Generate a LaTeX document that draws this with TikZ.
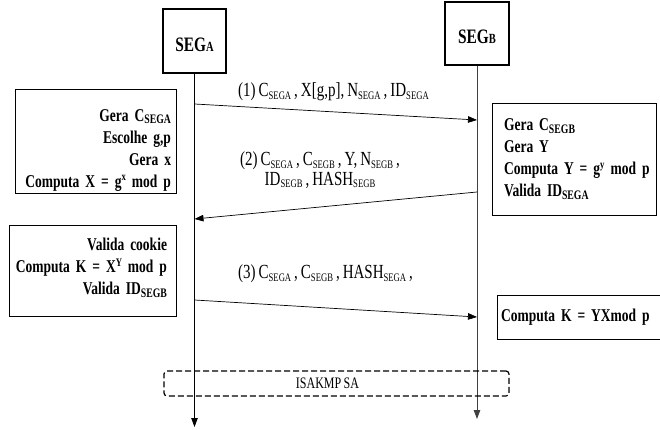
\documentclass[tikz,border=0pt]{standalone}
\usepackage{fontspec}
\setmainfont{Liberation Serif}[FakeStretch=0.75, WordSpace=0.8]
\usetikzlibrary{arrows.meta}
% small lowered / raised text for indices and exponents
\newcommand\lowtxt[2][11.5]{\raisebox{-0.3ex}{\fontsize{#1}{#1}\selectfont #2}}
\newcommand\hightxt[2][11.5]{\raisebox{0.75ex}{\fontsize{#1}{#1}\selectfont #2}}
% one unbreakable line, flushed left or right within the box text width
\newcommand\lline[1]{\makebox[\linewidth][l]{#1}}
\newcommand\rline[1]{\makebox[\linewidth][r]{#1}}
\begin{document}
\begin{tikzpicture}[x=1pt,y=-1pt,
  segbox/.style={draw, line width=1.6pt, inner sep=0, text height=21pt, text depth=0pt,
    font=\bfseries\fontsize{20.5}{20.5}\selectfont},
  procbox/.style={draw, line width=0.8pt, inner ysep=0,
    font=\bfseries\fontsize{18}{22}\selectfont},
  life/.style={line width=0.8pt, -{Triangle[length=9pt,width=6.5pt]}},
  msg/.style={line width=0.7pt, -{Triangle[length=9pt,width=6.5pt]}},
  msglabel/.style={inner sep=0, align=center, font=\fontsize{20}{19.5}\selectfont},
  sabox/.style={draw, dashed, dash pattern=on 6pt off 3pt, rounded corners=3pt,
    line width=1.2pt, inner sep=0, font=\fontsize{16}{16}\selectfont}
]
\useasboundingbox (0,0) rectangle (660,430);

% participants
\node[segbox, minimum width=63, minimum height=64] (segA) at (194.5,41) {SEG{\fontsize{14}{14}\selectfont A}};
\node[segbox, minimum width=64, minimum height=63] (segB) at (477,33.5) {SEG{\fontsize{14}{14}\selectfont B}};

% lifelines
\coordinate (endA) at (194.5,427);
\coordinate (endB) at (477,419);
\draw[life] (segA.south) -- (endA);
\draw[life, draw=black!75] (segB.south) -- (endB);

% local processing on each side
\node[procbox, text width=151, inner xsep=5, minimum height=104, text height=30pt] (pa1) at (95.5,141)
  {\rline{Gera C\lowtxt[13]{SEGA}}\\ \rline{Escolhe g,p}\\ \rline{Gera x}\\
   \rline{Computa X = g\hightxt{x} mod p}};
\node[procbox, text width=140, inner xsep=12, minimum height=112] (pb1) at (574,159)
  {\lline{Gera C\lowtxt[13]{SEGB}}\\ \lline{Gera Y}\\ \lline{Computa Y = g\hightxt{y} mod p}\\
   \lline{Valida ID\lowtxt[13]{SEGA}}};
\node[procbox, text width=149, inner xsep=9, minimum height=91, text height=7pt] (pa2) at (92.5,270.5)
  {\rline{Valida cookie}\\ \rline{Computa K = X\hightxt{Y} mod p}\\ \rline{Valida ID\lowtxt[13]{SEGB}}};
\node[procbox, text width=159, inner xsep=4, minimum height=44] (pb2) at (580.5,317)
  {\lline{Computa K = YXmod p}};

% message (1)
\coordinate (m1a) at (194.5,104);
\coordinate (m1b) at (477,120);
\draw[msg] (m1a) -- (m1b);
\node[msglabel, anchor=west] (l1) at (238,92)
  {(1) C\lowtxt{SEGA} , X[g,p], N\lowtxt{SEGA} , ID\lowtxt{SEGA}};

% message (2)
\coordinate (m2b) at (477,192);
\coordinate (m2a) at (194.5,219);
\draw[msg] (m2b) -- (m2a);
\node[msglabel] (l2) at (320,170)
  {(2) C\lowtxt{SEGA} , C\lowtxt{SEGB} , Y, N\lowtxt{SEGB} ,\\ ID\lowtxt{SEGB} , HASH\lowtxt{SEGB}};

% message (3)
\coordinate (m3a) at (194.5,300);
\coordinate (m3b) at (477,317);
\draw[msg] (m3a) -- (m3b);
\node[msglabel, anchor=west] (l3) at (238,274)
  {(3) C\lowtxt{SEGA} , C\lowtxt{SEGB} , HASH\lowtxt{SEGA} ,};

% resulting security association
\node[sabox, minimum width=345, minimum height=25] (sa) at (336.5,383.5) {ISAKMP SA\hspace*{18pt}};
\end{tikzpicture}
\end{document}
